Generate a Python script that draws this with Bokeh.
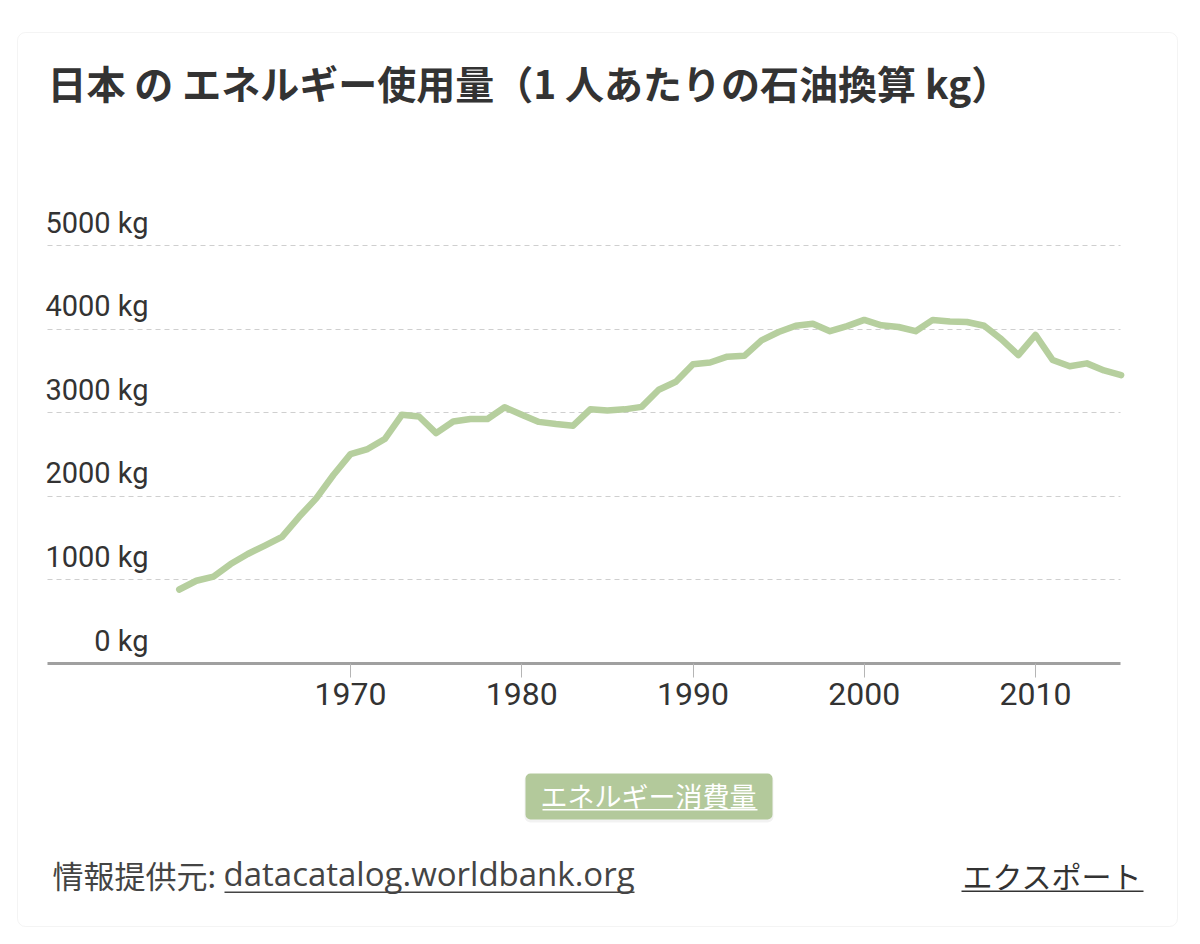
from bokeh.plotting import figure
from bokeh.models import Range1d, FixedTicker, Label, LabelSet, BoxAnnotation, ColumnDataSource
from bokeh.core.properties import value
from bokeh.embed import file_html
from bokeh.resources import INLINE

# ---- data ----
years = list(range(1960, 2016))
energy = [885, 990, 1040, 1190, 1310, 1410, 1515, 1755, 1975, 2255,
          2505, 2565, 2685, 2975, 2955, 2755, 2895, 2925, 2925, 3065,
          2975, 2890, 2865, 2845, 3040, 3025, 3040, 3070, 3275, 3370,
          3580, 3600, 3670, 3680, 3865, 3965, 4040, 4065, 3975, 4035,
          4110, 4045, 4025, 3975, 4110, 4090, 4085, 4040, 3880, 3690,
          3930, 3630, 3555, 3590, 3505, 3450]
x_ticks = [1970, 1980, 1990, 2000, 2010]
y_ticks = [0, 1000, 2000, 3000, 4000, 5000]
y_tick_labels = ["0 kg", "1000 kg", "2000 kg", "3000 kg", "4000 kg", "5000 kg"]
title_text = "日本 の エネルギー使用量（1 人あたりの石油換算 kg）"
legend_text = "エネルギー消費量"
source_prefix = "情報提供元:"
source_link = "datacatalog.worldbank.org"
export_text = "エクスポート"

LINE_COLOR = "#b6cf9e"
LEGEND_BG = "#b3c99b"
CJK = "Noto Sans CJK JP"

W, H = 1184, 928

# pixel geometry of the chart area (canvas pixels)
AX_L, AX_R = 47, 1120          # axis extent
YR0, YR1 = 1970, 2010          # reference years for pixel mapping
SX0, SX1 = 350, 1035
SY_ZERO, SY_TOP, V_TOP = 663, 245, 5000

px_per_year = (SX1 - SX0) / (YR1 - YR0)
px_per_val = (SY_ZERO - SY_TOP) / V_TOP


def year_at(sx):
    return YR0 + (sx - SX0) / px_per_year


def val_at(sy):
    return (SY_ZERO - sy) / px_per_val


x_start, x_end = year_at(AX_L), year_at(AX_R)


def rx(sx):
    return sx


def ry(sy):
    return H - sy


p = figure(width=W, height=H, output_backend="svg", toolbar_location=None,
           x_range=Range1d(year_at(0), year_at(W)),
           y_range=Range1d(val_at(H), val_at(0)),
           min_border_left=0, min_border_right=0,
           min_border_top=0, min_border_bottom=0)
p.background_fill_color = "white"
p.border_fill_color = "white"
p.outline_line_color = None

p.yaxis.visible = False
p.xgrid.visible = False

# horizontal dashed grid lines limited to the axis extent
yg = p.ygrid[0]
yg.ticker = FixedTicker(ticks=y_ticks[1:])
yg.grid_line_color = "#cfcfcf"
yg.grid_line_width = 1
yg.grid_line_dash = "5 4"
if "cross_bounds" in yg.properties():
    yg.cross_bounds = (x_start, x_end)
    use_segments = False
else:
    yg.visible = False
    use_segments = True
if use_segments:
    p.segment(x0=[x_start] * 5, x1=[x_end] * 5, y0=y_ticks[1:], y1=y_ticks[1:],
              line_color="#cfcfcf", line_width=1, line_dash="5 4")

xa = p.xaxis[0]
xa.fixed_location = 0
xa.bounds = (x_start, x_end)
xa.ticker = FixedTicker(ticks=x_ticks)
xa.axis_line_color = "#a0a0a0"
xa.axis_line_width = 3
xa.major_tick_line_color = "#b5b5b5"
xa.major_tick_out = 14
xa.major_tick_in = 0
xa.minor_tick_line_color = None
xa.major_label_text_font = "Roboto"
xa.major_label_text_font_size = "32px"
xa.major_label_text_color = "#333333"
xa.major_label_standoff = 5


def sbox(l, r, t, b, **kw):
    return BoxAnnotation(left=rx(l), right=rx(r), top=ry(t), bottom=ry(b),
                         left_units="screen", right_units="screen",
                         top_units="screen", bottom_units="screen", **kw)


# card border
p.add_layout(sbox(17, 1177, 32, 926, fill_alpha=0, line_color="#dcdcdc",
                  line_width=1, border_radius=8, level="underlay"))

# data line
p.line(years, energy, line_width=6.5, line_color=LINE_COLOR,
       line_join="round", line_cap="round")

# y tick labels above grid lines
ysrc = ColumnDataSource(dict(y=y_ticks, text=y_tick_labels))
p.add_layout(LabelSet(x=rx(148), y="y", text="text", source=ysrc,
                      x_units="screen", y_units="data", y_offset=13,
                      text_align="right", text_baseline="alphabetic",
                      text_font=value("Roboto"), text_font_size="29px",
                      text_color="#333333"))

# title
p.add_layout(Label(x=rx(47), y=ry(81), x_units="screen", y_units="screen",
                   text=title_text, text_font=CJK, text_font_size="39px",
                   text_font_style="bold", text_color="#333333",
                   text_align="left", text_baseline="middle"))

# legend button
p.add_layout(sbox(524, 773, 774, 822, fill_color="black", fill_alpha=0.05,
                  line_alpha=0, border_radius=6))
p.add_layout(sbox(525, 772, 773, 819, fill_color=LEGEND_BG, fill_alpha=1,
                  line_alpha=0, border_radius=5))
p.add_layout(Label(x=rx(648), y=ry(795), x_units="screen", y_units="screen",
                   text=legend_text, text_font=CJK, text_font_size="27px",
                   text_color="white", text_align="center", text_baseline="middle"))
p.add_layout(sbox(542, 757, 808.5, 810, fill_color="white", fill_alpha=1, line_alpha=0))

# footer
p.add_layout(Label(x=rx(52), y=ry(874), x_units="screen", y_units="screen",
                   text=source_prefix, text_font=CJK, text_font_size="31px",
                   text_color="#444444", text_align="left", text_baseline="middle"))
p.add_layout(Label(x=rx(223), y=ry(873), x_units="screen", y_units="screen",
                   text=source_link, text_font="Open Sans", text_font_size="33px",
                   text_color="#444444", text_align="left", text_baseline="middle"))
p.add_layout(sbox(224, 634, 891, 892.5, fill_color="#444444", fill_alpha=1, line_alpha=0))
p.add_layout(Label(x=rx(1142), y=ry(874), x_units="screen", y_units="screen",
                   text=export_text, text_font=CJK, text_font_size="30px",
                   text_color="#333333", text_align="right", text_baseline="middle"))
p.add_layout(sbox(961, 1143, 890, 891.5, fill_color="#333333", fill_alpha=1, line_alpha=0))

open("out.html", "w").write(file_html(p, INLINE))
